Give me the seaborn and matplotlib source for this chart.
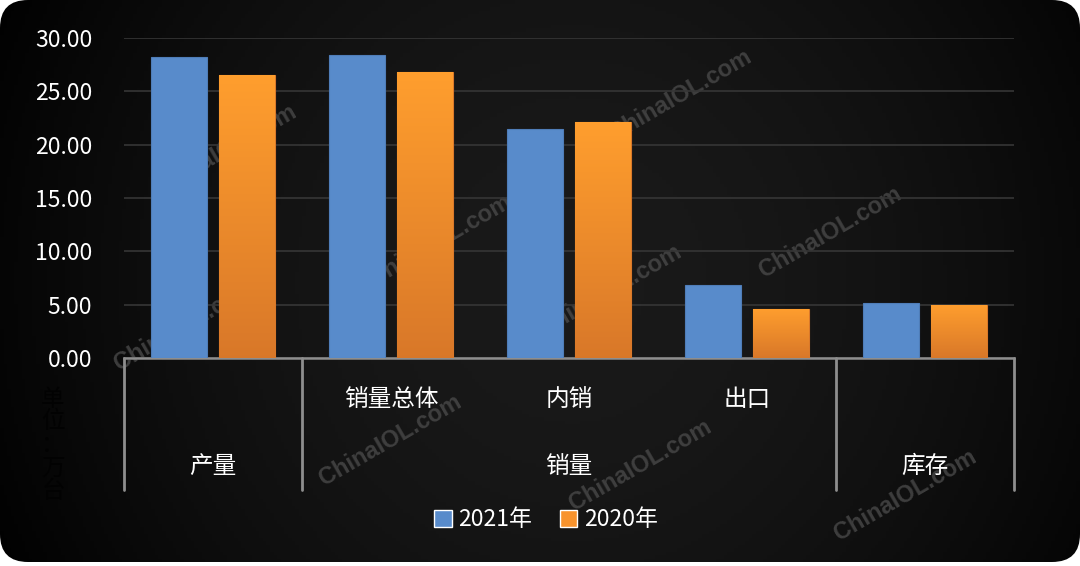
import numpy as np
import pandas as pd
import seaborn as sns
import matplotlib.pyplot as plt
from matplotlib.patches import FancyBboxPatch, Patch
import matplotlib.transforms as mtransforms

categories = ['产量', '销量总体', '内销', '出口', '库存']
row1_labels = ['', '销量总体', '内销', '出口', '']
groups = ['产量', '销量', '库存']
group_pos = [0, 2, 4]
years = ['2021年', '2020年']
v2021 = [28.2, 28.4, 21.5, 6.8, 5.2]
v2020 = [26.5, 26.8, 22.1, 4.6, 5.0]

sns.set_style('dark')
plt.rcParams['font.family'] = ['Noto Sans CJK SC', 'DejaVu Sans']

blue = '#588bcb'
orange = '#f8932d'
gray = '#8e8e8e'

df = pd.DataFrame({'项目': categories * 2,
                   '年份': [years[0]] * 5 + [years[1]] * 5,
                   '数值': v2021 + v2020})

fig = plt.figure(figsize=(10.8, 5.66), dpi=100, facecolor='white')

# background with rounded corners and soft gradient
bg = fig.add_axes([0, 0, 1, 1], zorder=0)
bg.set_xlim(0, 1080)
bg.set_ylim(0, 566)
bg.axis('off')
xx, yy = np.meshgrid(np.linspace(0, 1, 300), np.linspace(0, 1, 160))
d = np.sqrt(((xx - 0.53) / 0.6) ** 2 + ((yy - 0.5) / 1.2) ** 2)
v = np.clip(0.1 - 0.1 * d ** 1.8, 0, 1)
img = np.dstack([v, v, v])
box = FancyBboxPatch((0, 4), 1080, 562, boxstyle='round,pad=0,rounding_size=28',
                     transform=bg.transData, facecolor='none', edgecolor='none')
bg.add_patch(box)
im = bg.imshow(img, extent=[0, 1080, 0, 566], aspect='auto', origin='upper', zorder=0)
im.set_clip_path(box)

# watermarks
wm = [(225, 150), (185, 325), (440, 240), (610, 290), (680, 95),
      (830, 232), (390, 440), (640, 465), (905, 495)]
for wx, wy in wm:
    bg.text(wx, 566 - wy, 'ChinaIOL.com', rotation=30, ha='center', va='center',
            fontsize=17, fontweight='bold', color='#4d4d4d', alpha=0.75,
            family=['Liberation Sans', 'DejaVu Sans'], zorder=1)

ax = fig.add_axes([124 / 1080, 1 - 358 / 566, 890 / 1080, 320 / 566], zorder=2)
ax.set_facecolor('none')
sns.barplot(data=df, x='项目', y='数值', hue='年份', order=categories,
            hue_order=years, palette=[blue, orange], width=0.764, gap=0.19,
            saturation=1, ax=ax, legend=False, zorder=3)

ax.set_xlim(-0.5, 4.5)
ax.set_ylim(0, 30)

for p in ax.containers[0]:
    p.set_edgecolor('#4f7db8')
    p.set_linewidth(0.8)

# orange bars with vertical gradient
grad = np.linspace(0, 1, 100)[:, None]
top = np.array([1.0, 0.62, 0.18])
bot = np.array([0.85, 0.47, 0.16])
gimg = top[None, None, :] * (1 - grad[..., None]) + bot[None, None, :] * grad[..., None]
for p in ax.containers[1]:
    x0, w, h = p.get_x(), p.get_width(), p.get_height()
    p.set_edgecolor('#d9782a')
    p.set_linewidth(0.8)
    gi = ax.imshow(gimg, extent=[x0, x0 + w, 0, h], aspect='auto', origin='upper', zorder=3.5)
    gi.set_clip_path(p)
ax.set_xlim(-0.5, 4.5)
ax.set_ylim(0, 30)

ax.set_yticks([0, 5, 10, 15, 20, 25, 30])
ax.set_yticklabels([f'{t:.2f}' for t in [0, 5, 10, 15, 20, 25, 30]])
ax.tick_params(axis='y', colors='white', labelsize=16.5, length=0, pad=23)
ax.set_xticks([])
ax.set_xlabel('')
ax.set_ylabel('')
ax.grid(axis='y', color='#363636', linewidth=1.2)
ax.grid(axis='x', visible=False)
for s in ['top', 'right', 'left']:
    ax.spines[s].set_visible(False)
ax.spines['bottom'].set_color(gray)
ax.spines['bottom'].set_linewidth(1.8)

trans = mtransforms.blended_transform_factory(ax.transData, ax.transAxes)
for xb in [-0.5, 0.5, 3.5, 4.5]:
    ax.plot([xb, xb], [0, -0.4125], color=gray, lw=2, transform=trans, clip_on=False)
for i, lab in enumerate(row1_labels):
    ax.text(i, -0.131, lab, transform=trans, ha='center', va='center',
            color='white', fontsize=17)
for g, gx in zip(groups, group_pos):
    ax.text(gx, -0.34, g, transform=trans, ha='center', va='center',
            color='white', fontsize=17)

fig.text(53 / 1080, 1 - 445 / 566, '\n'.join('单位：万台'), ha='center', va='center',
         color='#020202', fontsize=17, linespacing=1.0, zorder=3)

handles = [Patch(facecolor=blue), Patch(facecolor=orange)]
leg = fig.legend(handles, years, loc='center', bbox_to_anchor=(546 / 1080, 1 - 520 / 566),
                 ncol=2, frameon=False, fontsize=16.5, handlelength=0.75, handleheight=0.75,
                 handletextpad=0.3, columnspacing=1.2, labelcolor='white')

fig.savefig('out.png', dpi=100, facecolor='white')
